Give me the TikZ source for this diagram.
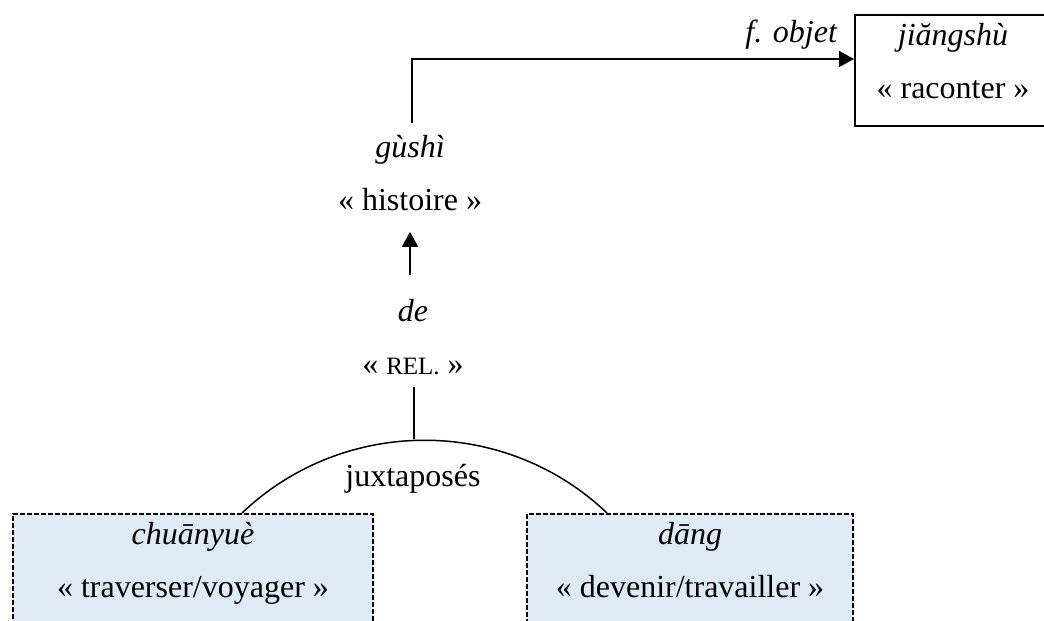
\documentclass[tikz,border=0pt]{standalone}
\usepackage{fontspec}
\setmainfont{Liberation Serif}
\usetikzlibrary{arrows.meta,calc}
\definecolor{boxblue}{HTML}{DEEBF7}
\newcommand{\twolines}[2]{\rule{0pt}{13pt}\textit{#1}\\#2\rule[-12pt]{0pt}{12pt}}
\newcommand{\midlines}[2]{\rule{0pt}{13pt}\textit{#1}\\#2\rule[-4pt]{0pt}{4pt}}
\begin{document}
\begin{tikzpicture}[x=0.5pt,y=-0.5pt,
  every node/.style={font=\fontsize{16}{26.5}\selectfont},
  wordbox/.style={draw, line width=1pt, anchor=north west, align=center,
    inner xsep=0pt, inner ysep=2pt, minimum height=55.5pt},
  dashbox/.style={wordbox, fill=boxblue, line width=1pt, dash pattern=on 2.5pt off 1pt},
  word/.style={align=center, inner sep=2pt, anchor=north},
  conn/.style={line width=0.75pt},
  arr/.style={conn, -{Triangle[length=7.5pt,width=8pt]}}
]
\useasboundingbox (0,0) rectangle (1044,621);

% boxes
\node[wordbox, minimum width=98pt] (tbox) at (854,14) {\twolines{jiăngshù}{« raconter »}};
\node[dashbox, minimum width=180pt] (lbox) at (12,513) {\twolines{chuānyuè}{« traverser/voyager »}};
\node[dashbox, minimum width=163pt] (rbox) at (526,513) {\twolines{dāng}{« devenir/travailler »}};

% free words
\node[word] (gushi) at (410,127) {\midlines{gùshì}{« histoire »}};
\node[word] (de) at (413,291) {\midlines{de}{« {\fontsize{12.5}{12.5}\selectfont REL.} »}};

% connectors
\coordinate (tin) at ($(tbox.north west)+(0,45)$);
\draw[arr, shorten <=2pt] (gushi.north -| 412,0) |- (tin);
\node[anchor=base east, inner sep=0pt] (fobj) at (838,42) {\textit{f. objet}};

\draw[arr, shorten <=8pt, shorten >=4.5pt] (de.north -| gushi.south) -- (gushi.south);

\coordinate (jx) at (414,439);
\draw[conn] (de.south -| jx) -- (jx);

\coordinate (al) at ($(lbox.north west)+(230,0)$);
\coordinate (ar) at ($(rbox.north west)+(81,0)$);
\draw[conn] (al) .. controls ($(al)+(102,-97)$) and ($(ar)+(-102,-97)$) .. (ar);
\node[anchor=base, inner sep=0pt] (jux) at (413,486) {juxtaposés};
\end{tikzpicture}
\end{document}
